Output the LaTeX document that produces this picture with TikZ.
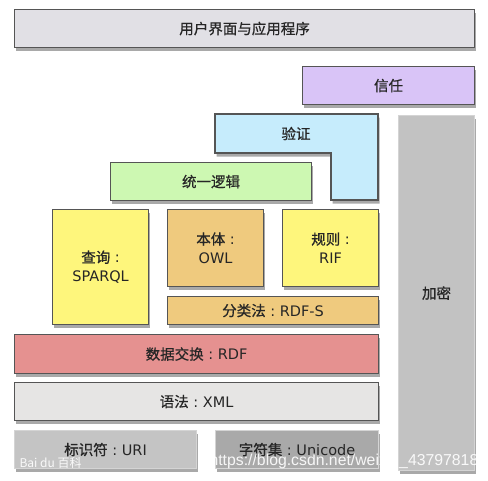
\documentclass[tikz,border=0pt]{standalone}
\usepackage{fontspec}
\setmainfont{Noto Sans CJK SC}
\newfontfamily\cjk[FakeBold=0.7]{Noto Sans CJK SC}
\newfontfamily\lat{DejaVu Sans}
\newfontfamily\wmfont{Liberation Sans}
\newcommand{\cln}{{\lat\ :\ }}
\usetikzlibrary{shadows}
\definecolor{cUI}{HTML}{E1E0E5}
\definecolor{cTrust}{HTML}{D9C4F7}
\definecolor{cProof}{HTML}{C6ECFC}
\definecolor{cLogic}{HTML}{CDF8B2}
\definecolor{cYel}{HTML}{FEF67C}
\definecolor{cOra}{HTML}{EFCA7E}
\definecolor{cRDF}{HTML}{E59190}
\definecolor{cXML}{HTML}{E6E5E4}
\definecolor{cURI}{HTML}{C4C4C4}
\definecolor{cUni}{HTML}{A9A9A9}
\definecolor{cCry}{HTML}{C2C2C2}
\definecolor{cEdge}{HTML}{555555}
\definecolor{cLight}{HTML}{D4D4D4}
\tikzset{
  shd/.style={drop shadow={shadow xshift=1.5pt, shadow yshift=-3.5pt, opacity=0.45, fill=black!75}},
  box/.style={draw=cEdge, line width=1.1pt, anchor=north west, inner sep=0pt, align=center,
    font=\cjk\fontsize{14.5}{19}\selectfont, text=black!85, shd},
  lbox/.style={box, draw=cLight},
  lbl/.style={font=\cjk\fontsize{14.5}{19}\selectfont, text=black!85, align=center},
  wm/.style={font=\wmfont\fontsize{15.8}{17}\selectfont, text=white, opacity=0.9}
}
\begin{document}
\begin{tikzpicture}[x=1pt, y=-1pt]
\useasboundingbox (0,0) rectangle (488,480);
% crypto column
\node[lbox, fill=cCry, minimum width=76pt, minimum height=355pt] (cry) at (398,115) {加密};
\node[box, fill=cUI, minimum width=460pt, minimum height=38pt] (ui) at (14,9) {用户界面与应用程序};
\node[box, fill=cTrust, minimum width=172pt, minimum height=38pt] (trust) at (302,66) {信任};
% proof L-shape
\path[fill=cProof, draw=cEdge, line width=1.1pt, shd]
  (215,114) -- (378,114) -- (378,200) -- (331,200) -- (331,153) -- (215,153) -- cycle;
\node[lbl] (proof) at (296,133.5) {验证};
\node[box, fill=cLogic, minimum width=201pt, minimum height=38pt] (logic) at (110,162) {统一逻辑};
\node[box, fill=cYel, minimum width=96pt, minimum height=115pt] (query) at (52,209) {\raisebox{-3pt}{\parbox{90pt}{\centering 查询\cln\\{\lat SPARQL}}}};
\node[box, fill=cOra, minimum width=96pt, minimum height=77pt] (owl) at (167,209) {本体\cln\\{\lat OWL}};
\node[box, fill=cYel, minimum width=96pt, minimum height=77pt] (rif) at (282,209) {规则\cln\\{\lat RIF}};
\node[box, fill=cOra, minimum width=211pt, minimum height=28pt] (rdfs) at (167,296) {分类法\cln{\lat RDF-S}};
\node[box, fill=cRDF, minimum width=364pt, minimum height=39pt] (rdf) at (14,334) {数据交换\cln{\lat RDF}};
\node[box, fill=cXML, minimum width=364pt, minimum height=38pt] (xml) at (14,382) {语法\cln{\lat XML}};
\node[lbox, fill=cURI, minimum width=182pt, minimum height=38pt] (uri) at (14,430) {标识符\cln{\lat URI}};
\node[lbox, fill=cUni, minimum width=163pt, minimum height=38pt] (uni) at (215,430) {字符集\cln{\lat Unicode}};
% watermarks
\node[wm, anchor=west] (wm1) at (206,461) {https://blog.csdn.net/weixin\_43797818};
\node[wm, anchor=west, font=\fontsize{12}{13}\selectfont] (wm2) at (16,463) {Bai du 百科};
\end{tikzpicture}
\end{document}
